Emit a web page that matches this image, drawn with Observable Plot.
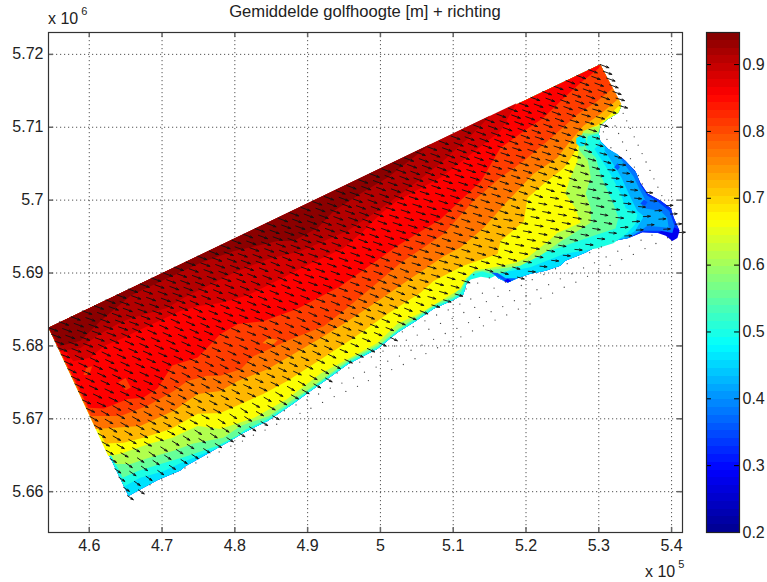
<!DOCTYPE html>
<html><head><meta charset="utf-8">
<script src="https://cdn.jsdelivr.net/npm/d3@7"></script>
<script src="https://cdn.jsdelivr.net/npm/@observablehq/plot@0.6"></script>
<style>
html,body{margin:0;background:#fff}
#wrap{position:relative;width:767px;height:582px;font-family:"Liberation Sans",Arial,sans-serif;color:#222;overflow:hidden}
#wrap>svg,#wrap>figure{position:absolute;top:0;margin:0}
.t{position:absolute;white-space:nowrap;line-height:1}
.t sup{font-size:11px;position:relative;top:-9px;vertical-align:baseline;margin-left:3px}
</style></head><body><div id="wrap"></div>
<script>
// ---- Data, all positions in km ----
const xTicks=[460,470,480,490,500,510,520,530,540];
const yTicks=[5660,5670,5680,5690,5700,5710,5720];
const cTicks=[0.2,0.3,0.4,0.5,0.6,0.7,0.8,0.9];
const jetValues=[0.2,0.2935,0.4805,0.6675,0.8545,0.948];
const jetColors=["#00008f","#0000ff","#00ffff","#ffff00","#ff0000","#800000"];

const cornerA=[454.4,5682.5], cornerB=[530.2,5718.6];
const shoreSW=[465.4,5659.4,466.6,5660.1,469.4,5661.6,472.5,5662.9,473.2,5663.5,475.7,5664.9,477.6,5666.0,479.1,5666.8,481.2,5668.1,484.5,5669.7,487.9,5672.0,490.1,5673.6,492.9,5675.6,495.5,5677.5,499.6,5679.6,502.3,5681.8,504.8,5683.4,507.3,5685.1,510.0,5686.3];
const shoreBay=[511.4,5687.1,511.8,5688.5,512.4,5690.0,514.0,5690.6,515.4,5690.0,516.2,5689.3,517.5,5688.7,518.8,5689.3,520.6,5689.9,522.7,5690.3,524.7,5691.0,525.4,5691.7,528.2,5692.8,530.2,5693.9,532.0,5694.4,534.1,5694.8];
const shoreTip=[536.0,5695.6,538.1,5695.5,539.2,5695.1,540.1,5694.4,540.8,5694.8,541.1,5695.8];
const shoreNE=[540.3,5697.6,539.9,5698.9,538.5,5699.9,536.7,5700.9,535.7,5702.4,535.0,5704.0,533.3,5705.7,531.3,5707.0];
const shoreNotch=[530.2,5708.1,530.0,5709.1,530.2,5710.2,531.2,5711.1,532.7,5712.0,533.1,5712.9];

const base028=[...shoreSW,...shoreBay,...shoreTip,...shoreNE,...shoreNotch,...cornerB];
const band033=[...shoreSW,...shoreBay,536.0,5695.6,538.1,5695.5,539.2,5696.1,540.1,5696.3,541.0,5696.0,...shoreNE,...shoreNotch,...cornerB];
const band038=[...shoreSW,...shoreBay,536.0,5695.8,538.5,5695.8,540.1,5695.5,540.4,5696.5,539.7,5698.5,538.1,5699.8,536.7,5700.6,535.7,5702.1,535.2,5703.7,533.7,5705.4,531.3,5707.0,...shoreNotch,...cornerB];
const band042=[...shoreSW,...shoreBay,536.7,5696.5,539.6,5696.2,539.4,5697.6,538.5,5698.5,536.2,5698.9,536.4,5700.0,535.6,5701.5,534.8,5703.2,533.7,5704.7,532.6,5706.3,531.3,5707.0,...shoreNotch,...cornerB];
const band046=[...shoreSW,...shoreBay.slice(0,28),532.0,5694.4,533.9,5695.0,535.0,5695.8,536.2,5697.8,535.3,5698.5,534.4,5700.3,533.1,5703.1,531.9,5705.1,530.8,5706.8,530.8,5707.4,...shoreNotch,...cornerB];
const band050=[464.8,5660.7,467.0,5661.9,470.2,5662.8,472.5,5663.9,474.9,5664.9,477.6,5666.0,480.1,5667.4,...shoreSW.slice(16),511.4,5687.1,511.8,5688.5,512.4,5689.1,513.8,5689.5,515.1,5689.3,516.5,5690.0,520.6,5690.8,525.2,5692.6,529.8,5693.4,532.0,5694.1,533.9,5695.5,535.0,5696.7,535.3,5698.1,533.7,5698.9,533.0,5700.9,531.6,5703.6,530.2,5705.8,529.4,5707.0,529.8,5707.4,530.2,5708.1,530.0,5709.1,530.2,5710.2,531.2,5711.1,532.7,5712.0,533.1,5712.9,...cornerB];
const band055=[464.6,5661.9,466.6,5662.8,469.8,5663.8,473.5,5664.9,477.6,5666.3,480.4,5667.7,481.4,5668.5,484.6,5670.0,488.0,5672.3,490.2,5673.9,493.0,5675.9,495.6,5677.8,499.7,5679.9,502.4,5682.1,504.9,5683.7,507.4,5685.4,510.0,5686.5,511.1,5687.4,511.6,5688.5,512.4,5689.8,514.0,5690.2,515.8,5689.7,517.5,5690.3,521.0,5692.3,525.2,5693.7,529.3,5695.1,532.3,5696.1,532.7,5697.6,532.0,5699.5,531.2,5701.3,530.2,5703.6,529.6,5705.8,528.2,5707.2,528.5,5708.8,530.0,5709.1,530.2,5710.2,531.2,5711.1,532.7,5712.0,533.1,5712.9,...cornerB];
const band061=[463.6,5663.8,465.7,5663.8,468.0,5664.6,471.6,5665.6,474.3,5666.6,478.4,5667.4,480.8,5669.0,484.7,5670.4,488.1,5672.7,490.3,5674.2,493.1,5676.2,495.7,5678.1,499.8,5680.2,502.5,5682.4,505.0,5684.0,507.5,5685.7,510.1,5686.8,510.7,5687.8,511.4,5688.8,512.4,5690.2,515.1,5690.4,519.2,5691.0,522.0,5692.4,524.7,5694.3,528.9,5696.9,528.9,5698.9,528.2,5700.9,528.9,5703.1,528.5,5705.4,527.2,5707.0,526.8,5708.4,527.5,5709.2,528.9,5709.1,530.0,5709.4,530.2,5710.2,531.2,5711.1,532.7,5712.0,533.1,5712.9,...cornerB];
const band066=[462.6,5664.9,464.3,5665.2,466.6,5666.0,468.4,5666.6,471.4,5667.4,474.9,5669.0,478.0,5668.6,482.6,5670.1,487.2,5672.7,491.8,5676.2,496.3,5678.6,499.6,5680.4,502.3,5683.0,505.5,5684.5,511.0,5687.8,511.8,5689.3,513.1,5690.4,515.1,5690.7,518.6,5691.4,520.2,5692.1,523.1,5694.4,524.3,5695.5,527.5,5696.9,526.8,5698.9,525.4,5700.9,526.1,5703.1,527.1,5705.4,527.2,5706.8,527.5,5709.8,529.8,5710.1,531.2,5711.1,532.7,5712.0,533.1,5712.9,...cornerB];
const band072=[462.2,5666.6,464.7,5666.7,467.4,5667.4,471.2,5668.6,474.9,5670.7,478.0,5670.8,483.9,5673.4,487.2,5675.2,491.4,5677.9,496.3,5681.1,501.0,5684.4,505.5,5687.3,507.3,5688.9,511.4,5691.0,516.1,5692.6,516.5,5694.4,519.7,5697.1,520.2,5700.3,522.4,5702.2,525.2,5704.4,526.5,5706.3,527.2,5707.7,527.9,5709.5,529.8,5710.3,531.2,5711.4,532.3,5712.5,533.1,5713.2,...cornerB];
const band077=[460.9,5668.6,463.9,5668.8,467.0,5669.0,471.6,5671.1,474.9,5673.4,478.0,5673.8,480.4,5675.2,484.5,5676.8,491.8,5681.1,495.5,5683.4,500.0,5686.4,504.1,5689.2,508.7,5692.3,511.0,5693.5,514.2,5696.2,517.5,5699.9,521.0,5703.6,524.3,5705.8,526.1,5708.1,527.9,5710.2,530.2,5711.8,532.7,5713.9,...cornerB];
const band081=[460.2,5670.4,464.3,5670.4,468.0,5671.8,471.6,5673.8,473.5,5675.2,476.2,5675.9,478.0,5675.9,480.8,5676.8,482.6,5678.6,487.2,5680.7,492.2,5682.7,494.9,5684.8,499.0,5688.2,502.8,5691.4,508.7,5695.4,512.8,5699.9,516.5,5703.1,519.7,5705.4,523.4,5708.5,527.1,5711.8,529.8,5713.6,531.9,5715.3,...cornerB];
const band085=[459.9,5671.5,462.0,5671.4,465.3,5672.7,467.4,5672.9,469.4,5674.2,471.4,5677.3,474.9,5678.4,478.0,5681.6,480.4,5683.0,483.9,5683.4,488.6,5685.1,494.5,5688.2,498.2,5690.8,502.3,5693.7,508.3,5697.4,513.8,5702.6,516.5,5707.2,519.2,5709.1,522.4,5711.3,525.2,5714.0,527.5,5716.1,530.0,5718.1,...cornerB];
const band089=[457.8,5677.9,460.2,5678.4,462.0,5680.0,464.7,5681.1,466.1,5681.8,472.5,5684.8,475.3,5685.5,478.0,5685.9,481.7,5686.9,486.3,5689.2,490.4,5691.3,494.9,5693.4,497.7,5695.8,500.0,5698.1,502.3,5699.9,508.3,5703.1,516.5,5709.5,518.7,5713.3];
const band091=[456.0,5679.3,458.8,5679.7,461.1,5681.4,463.9,5683.0,465.7,5683.8,470.7,5685.2,473.0,5686.6,479.8,5690.0,484.5,5691.9,489.0,5693.0,495.5,5695.8,499.6,5698.5,503.7,5701.5,508.3,5705.1,512.4,5708.8,515.1,5711.6];
const band094=[456.0,5680.0,458.8,5680.7,461.5,5683.4,465.7,5686.9,475.3,5691.4,479.8,5693.0,485.9,5694.4,488.1,5694.4,491.4,5696.2,493.6,5698.5,497.3,5700.9,501.0,5703.1,504.5,5705.8,506.9,5707.7];
const bands=[[0.28,base028],[0.33,band033],[0.38,band038],[0.42,band042],[0.46,band046],[0.50,band050],[0.555,band055],[0.61,band061],[0.665,band066],[0.72,band072],[0.77,band077],[0.81,band081],[0.855,band085],[0.885,band089],[0.91,band091],[0.94,band094]];

// small pockets
const pockets=[
 [0.47,[528.3,5708.1,528.0,5708.7,527.5,5708.9,526.9,5708.5,526.9,5707.8,527.3,5707.4,527.9,5707.4]],
 [0.36,[515.1,5690.1,516.2,5689.4,517.5,5688.7,518.8,5689.3,517.2,5689.3,516.1,5690.0]],
 [0.29,[516.9,5688.9,517.5,5688.7,518.0,5688.9,517.5,5689.2]],
 [0.36,[532.1,5704.5,532.6,5704.1,532.9,5704.5,532.6,5705.1]],
 [0.35,[535.7,5699.5,536.3,5699.2,536.7,5699.7,536.2,5700.1]],
 [0.81,[464.0,5675.0,465.0,5673.9,465.7,5674.3,465.0,5675.6]],
 [0.81,[459.2,5676.0,460.0,5676.0,460.4,5677.2,459.6,5677.0]],
 [0.76,[483.8,5680.4,484.6,5681.1,485.9,5680.8,485.2,5680.1]]
];

const edgeX=[454.4,455.9,457.5,459.1,460.7,462.3,463.8,465.4,467.0,468.6,470.2,471.7,473.3,474.9,476.5,478.1,479.6,481.2,482.8,484.4,486.0,487.5,489.1,490.7,492.3,493.9,495.4,497.0,498.6,500.2,501.8,503.3,504.9,506.5,508.1,509.7,511.2,512.8,514.4,516.0,517.6,519.1,520.7,522.3,523.9,525.5,527.0,528.6,530.2];
const edgeY=[5682.5,5683.3,5684.0,5684.8,5685.5,5686.3,5687.0,5687.8,5688.5,5689.3,5690.0,5690.8,5691.5,5692.3,5693.0,5693.8,5694.5,5695.3,5696.1,5696.8,5697.5,5698.3,5699.0,5699.8,5700.5,5701.3,5702.0,5702.8,5703.6,5704.3,5705.1,5705.8,5706.6,5707.3,5708.1,5708.8,5709.6,5710.3,5711.1,5711.8,5712.6,5713.3,5714.1,5714.9,5715.6,5716.4,5717.1,5717.9,5718.6];
const crossFrac=[0,.04,.08,.12,.16,.2,.245,.29,.335,.38,.43,.48,.53,.58,.63,.68,.73,.78,.84,.89,.95,1];
const crossVec=[10.85,-23.05];
// wave direction, degrees clockwise of due east; rows offshore to shore, columns west to east
const waveDir=[
 [20,20,20,20,20,20,20],
 [25,24,22,20,18,18,16],
 [30,28,25,22,16,10,5],
 [35,33,30,25,15,5,-3]
];

// ---- Build tables ----
const pairs=a=>{const o=[];for(let i=0;i<a.length;i+=2)o.push([a[i],a[i+1]]);return o};
const closed=b=>[cornerA,...pairs(b)];
const rows=[];let id=0;
bands.forEach(([v,b])=>{id++;closed(b).forEach(p=>rows.push({id,v,x:p[0],y:p[1]}))});
pockets.forEach(([v,b])=>{id++;pairs(b).forEach(p=>rows.push({id,v,x:p[0],y:p[1]}))});

const polys=bands.map(([v,b])=>({v,poly:closed(b)}));
const wet=polys[0].poly;
const cx=d3.mean(wet,d=>d[0]),cy=d3.mean(wet,d=>d[1]);
const vectors=[],land=[];
edgeX.forEach((ex,i)=>crossFrac.forEach((f,j)=>{
  const x=ex+crossVec[0]*f,y=edgeY[i]+crossVec[1]*f;
  const tx=x+(cx-x)*0.004,ty=y+(cy-y)*0.004;
  if(d3.polygonContains(wet,[tx,ty])){
    let v=0.28;for(const p of polys) if(d3.polygonContains(p.poly,[tx,ty])) v=p.v;
    const a=waveDir[Math.round(f*3)][Math.round(i/48*6)];
    vectors.push({x,y,rot:90+a,len:4.5+5.5*v});
  } else land.push({x,y});
}));

const fmtX=v=>String(+(v/100).toFixed(2));
const fmtY=v=>String(+(v/1000).toFixed(2));
const [X0,X1,Y0,Y1]=[454.4,541.5,5654.4,5723.0];
const font="Liberation Sans, Arial, sans-serif";
const colorScale={type:"linear",domain:jetValues,range:jetColors,interpolate:"rgb"};
const quiver={draw(c,l){c.moveTo(0,0);c.lineTo(0,-l);c.moveTo(-0.9,-l+2.6);c.lineTo(0,-l);c.lineTo(0.9,-l+2.6);}};

const main=Plot.plot({
  width:767,height:582,marginLeft:48,marginRight:85,marginTop:32,marginBottom:50,
  x:{domain:[X0,X1]},y:{domain:[Y0,Y1]},color:colorScale,length:{type:"identity"},
  style:{fontFamily:font,background:"transparent"},
  marks:[
    Plot.ruleX(xTicks,{stroke:"#555",strokeDasharray:"1.2 2.8"}),
    Plot.ruleY(yTicks,{stroke:"#555",strokeDasharray:"1.2 2.8"}),
    Plot.line(rows,{x:"x",y:"y",z:"id",fill:"v",stroke:"none"}),
    Plot.dot(land,{x:"x",y:"y",r:0.65,fill:"#444",stroke:"none"}),
    Plot.vector(vectors,{x:"x",y:"y",length:"len",rotate:"rot",anchor:"start",shape:quiver,stroke:"#111",strokeWidth:0.85}),
    Plot.ruleX(xTicks,{y1:Y0,y2:Y0+0.7,stroke:"#666",strokeWidth:1.5}),
    Plot.ruleX(xTicks,{y1:Y1,y2:Y1-0.7,stroke:"#666",strokeWidth:1.5}),
    Plot.ruleY(yTicks,{x1:X0,x2:X0+0.7,stroke:"#666",strokeWidth:1.5}),
    Plot.ruleY(yTicks,{x1:X1,x2:X1-0.7,stroke:"#666",strokeWidth:1.5}),
    Plot.frame({stroke:"#333",strokeWidth:1.2}),
    Plot.axisX(xTicks,{anchor:"bottom",tickSize:0,tickPadding:7,tickFormat:fmtX,label:null,fontSize:16,fill:"#222"}),
    Plot.axisY(yTicks,{anchor:"left",tickSize:0,tickPadding:5,tickFormat:fmtY,label:null,fontSize:16,fill:"#222"})
  ]
});

const barSteps=d3.range(64);
const [C0,C1]=[0.2,0.948];
const barPlot=Plot.plot({
  width:67,height:582,marginLeft:6,marginRight:28,marginTop:32,marginBottom:50,
  x:{domain:[0,1],axis:null},y:{domain:[C0,C1]},color:colorScale,
  style:{fontFamily:font,background:"transparent"},
  marks:[
    Plot.rect(barSteps,{x1:0,x2:1,y1:d=>C0+(C1-C0)*d/64,y2:d=>C0+(C1-C0)*(d+1)/64,fill:d=>C0+(C1-C0)*(d+.5)/64,shapeRendering:"crispEdges"}),
    Plot.ruleY(cTicks,{x1:0,x2:0.15,stroke:"#000"}),
    Plot.ruleY(cTicks,{x1:0.85,x2:1,stroke:"#000"}),
    Plot.frame({stroke:"#222",strokeWidth:1.2}),
    Plot.axisY(cTicks,{anchor:"right",tickSize:0,tickPadding:3,tickFormat:d=>String(d),label:null,fontSize:16,fill:"#222"})
  ]
});
barPlot.style.left="700px";

const wrap=document.getElementById("wrap");
main.style.left="0px";
wrap.append(main,barPlot);
function label(html,left,top,size){const d=document.createElement("div");d.className="t";d.innerHTML=html;d.style.left=left+"px";d.style.top=top+"px";d.style.fontSize=size+"px";wrap.append(d);return d}
const ti=label("Gemiddelde golfhoogte [m] + richting",0,4,16.6);ti.style.width="730px";ti.style.textAlign="center";
label("x 10<sup>6</sup>",48,11,16);
label("x 10<sup>5</sup>",645,564,16);
</script></body></html>
